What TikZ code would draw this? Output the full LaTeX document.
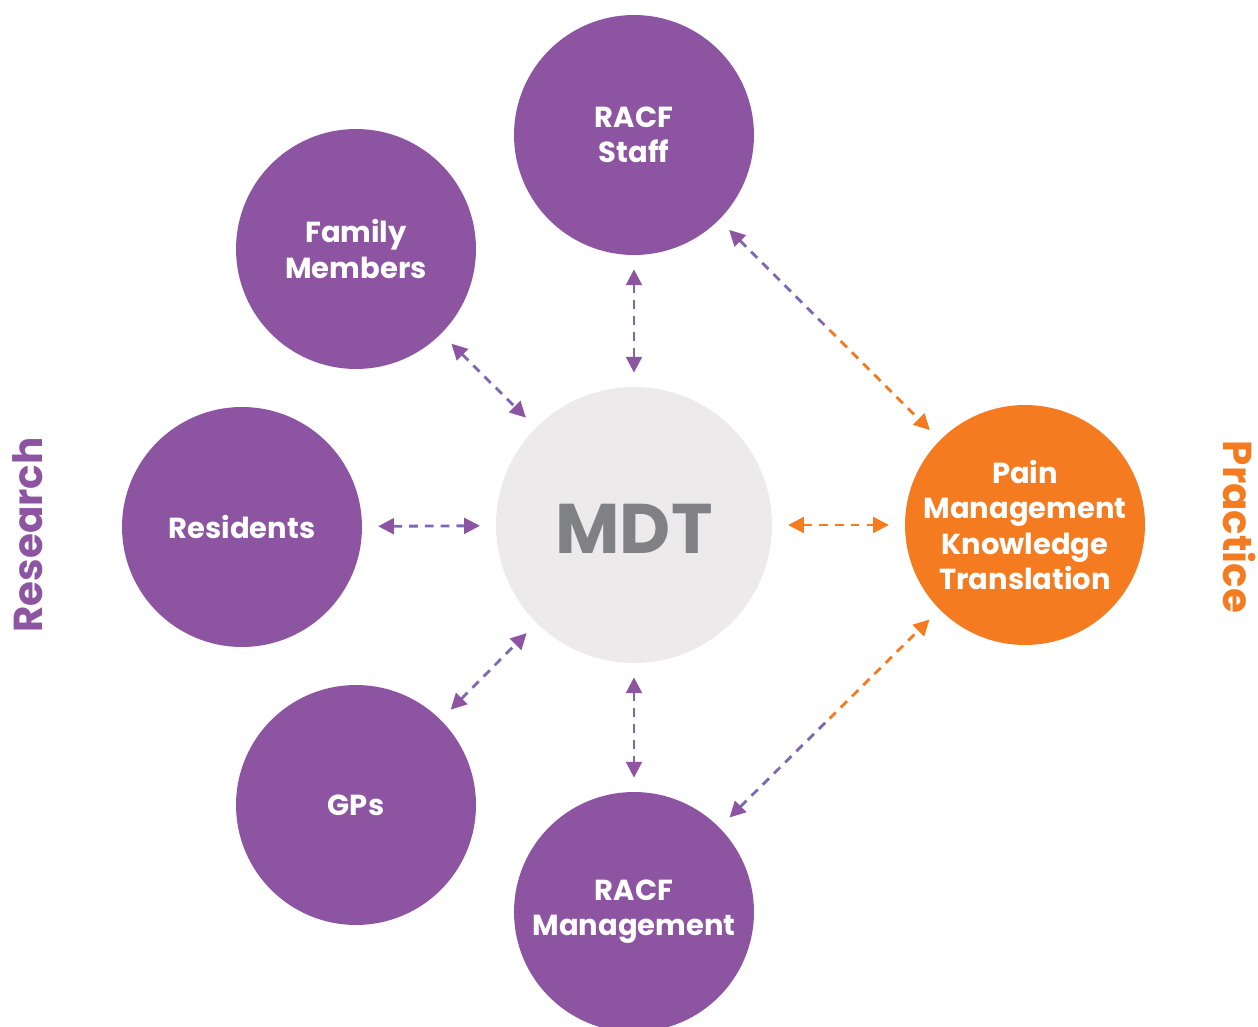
\documentclass[tikz,border=0pt]{standalone}
\usepackage{fontspec}
\setmainfont{Poppins}
\usetikzlibrary{arrows.meta,calc}
\definecolor{purp}{HTML}{8C54A1}
\definecolor{dashpurp}{HTML}{7D68B5}
\definecolor{orng}{HTML}{F47B20}
\definecolor{mdtgray}{HTML}{ECEAEB}
\definecolor{txtgray}{HTML}{808184}
\tikzset{
  ptip/.tip={Triangle[length=9pt,width=9pt,color=purp,fill=purp]},
  otip/.tip={Triangle[length=9pt,width=9pt,color=orng,fill=orng]}
}
\begin{document}
\begin{tikzpicture}[x=0.02cm,y=-0.02cm,
  bubble/.style={circle,fill=purp,minimum size=4.8cm,inner sep=0pt,text=white,
    font=\fontsize{16.5}{20}\selectfont\bfseries,align=center},
  obubble/.style={bubble,fill=orng},
  intext/.style={text=white,font=\fontsize{16.5}{20}\selectfont\bfseries,align=center,inner sep=0pt},
  pdash/.style={draw=dashpurp,line width=1.6pt,dash pattern=on 5pt off 4pt},
  odash/.style={draw=orng,line width=1.6pt,dash pattern=on 5pt off 4pt},
  sideLabel/.style={font=\fontsize{23}{26}\selectfont\bfseries}
]
\useasboundingbox (0,0) rectangle (1258,1027);
\node[circle,fill=mdtgray,minimum size=5.52cm,inner sep=0pt,text=txtgray,
  font=\fontsize{40}{44}\selectfont\bfseries,
  label={[text=txtgray,font=\fontsize{40}{44}\selectfont\bfseries,inner sep=0pt,yshift=-2pt]center:MDT}] (mdt) at (634,525) {};
\node[bubble] (staff) at (634,135) {RACF\\Staff};
\node[bubble] (family) at (356,249) {Family\\Members};
\node[bubble] (res) at (242,527) {Residents};
\node[bubble] (gps) at (356,805) {GPs};
\node[bubble] (mgmt) at (634,912) {RACF\\Management};
\node[obubble,label={[intext]center:Pain\\Management\\Knowledge\\Translation}] (pain) at (1025,525) {};
\node[sideLabel,text=purp,rotate=90] (research) at (28,535) {Research};
\node[sideLabel,text=orng,rotate=-90] (practice) at (1240,527) {Practice};
% purple connectors
\draw[pdash,{ptip}-{ptip},shorten <=8pt,shorten >=8pt] (staff) -- (mdt);
\draw[pdash,{ptip}-{ptip},shorten <=8pt,shorten >=8pt] (family) -- (mdt);
\draw[pdash,{ptip}-{ptip},shorten <=9pt,shorten >=9pt] (res) -- (mdt);
\draw[pdash,{ptip}-{ptip},shorten <=8pt,shorten >=8pt] (gps) -- (mdt);
\draw[pdash,{ptip}-{ptip},shorten <=8pt,shorten >=8pt] (mdt) -- (mgmt);
% orange connector
\draw[odash,{otip}-{otip},shorten <=9pt,shorten >=9pt] (mdt) -- (pain);
% split connectors
\coordinate (m1) at ($(staff)!0.5!(pain)$);
\coordinate (m2) at ($(mgmt)!0.5!(pain)$);
\draw[pdash,{ptip}-,shorten <=8pt] (staff) -- (m1);
\draw[odash,-{otip},shorten >=8pt] (m1) -- (pain);
\draw[pdash,{ptip}-,shorten <=8pt] (mgmt) -- (m2);
\draw[odash,-{otip},shorten >=8pt] (m2) -- (pain);
\end{tikzpicture}
\end{document}
